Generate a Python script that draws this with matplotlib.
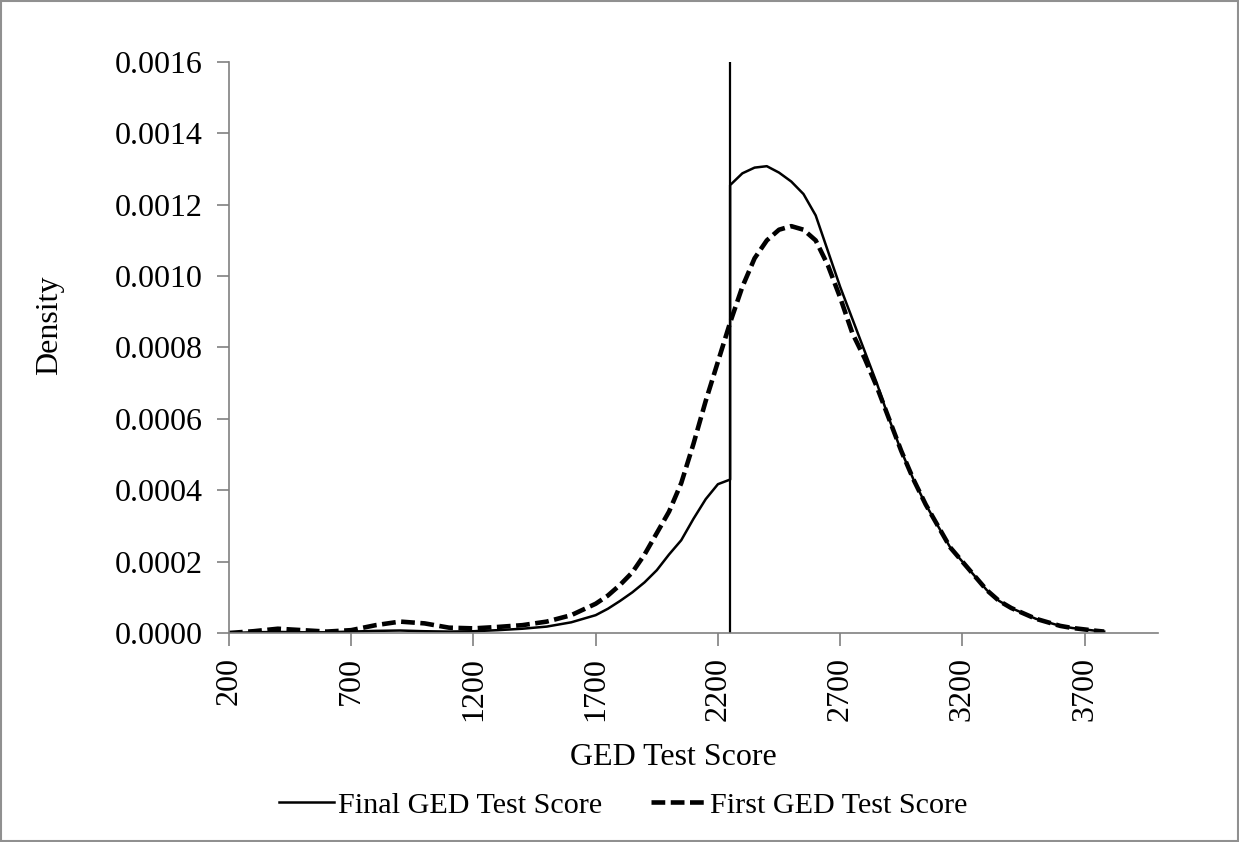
import matplotlib.pyplot as plt
from matplotlib.patches import Rectangle

plt.rcParams['font.family'] = ['Liberation Serif', 'DejaVu Serif']

# GED test score grid (duplicate 2250 marks the jump at the passing cutoff)
final_x = [200, 300, 400, 500, 600, 700, 800, 900, 1000, 1100, 1200, 1300,
           1400, 1500, 1600, 1700, 1750, 1800, 1850, 1900, 1950, 2000, 2050,
           2100, 2150, 2200, 2250, 2250, 2300, 2350, 2400, 2450, 2500, 2550,
           2600, 2650, 2700, 2750, 2800, 2850, 2900, 2950, 3000, 3050, 3100,
           3150, 3200, 3250, 3300, 3350, 3400, 3450, 3500, 3550, 3600, 3650,
           3700, 3750, 3780]
final_density = [0.0, 0.000002, 0.000003, 0.000002, 0.000002, 0.000004,
                 0.000006, 0.000007, 0.000005, 0.000004, 0.000005, 0.000008,
                 0.000012, 0.000018, 0.00003, 0.00005, 0.000068, 0.00009,
                 0.000114, 0.000142, 0.000176, 0.00022, 0.00026, 0.00032,
                 0.000375, 0.000417, 0.00043, 0.001255, 0.001288, 0.001304,
                 0.001308, 0.00129, 0.001265, 0.00123, 0.00117, 0.00107,
                 0.00097, 0.00088, 0.00079, 0.0007, 0.0006, 0.00051, 0.00043,
                 0.00036, 0.0003, 0.00024, 0.0002, 0.00016, 0.00012, 0.00009,
                 0.00007, 0.000055, 0.00004, 0.00003, 0.00002, 0.000014,
                 0.00001, 0.000006, 0.000004]

first_x = [200, 300, 400, 500, 600, 700, 800, 900, 1000, 1100, 1200, 1300,
           1400, 1500, 1600, 1700, 1750, 1800, 1850, 1900, 1950, 2000, 2050,
           2100, 2150, 2200, 2250, 2300, 2350, 2400, 2450, 2500, 2550, 2600,
           2650, 2700, 2750, 2800, 2850, 2900, 2950, 3000, 3050, 3100, 3150,
           3200, 3250, 3300, 3350, 3400, 3450, 3500, 3550, 3600, 3650, 3700,
           3750, 3780]
first_density = [0.0, 0.000005, 0.000012, 0.000008, 0.000004, 0.000008,
                 0.000022, 0.000032, 0.000027, 0.000015, 0.000013, 0.000017,
                 0.000022, 0.000032, 0.00005, 0.000082, 0.000105, 0.000135,
                 0.00017, 0.00022, 0.00028, 0.00034, 0.00042, 0.00053,
                 0.00065, 0.00076, 0.00087, 0.00097, 0.00105, 0.0011,
                 0.00113, 0.00114, 0.00113, 0.0011, 0.00103, 0.00094, 0.00084,
                 0.00077, 0.00069, 0.0006, 0.00051, 0.00043, 0.00036, 0.0003,
                 0.00024, 0.0002, 0.00016, 0.00012, 0.00009, 0.00007,
                 0.000055, 0.00004, 0.00003, 0.00002, 0.000014, 0.00001,
                 0.000006, 0.000004]

cutoff = 2250
x_ticks = [200, 700, 1200, 1700, 2200, 2700, 3200, 3700]
y_ticks = [0.0, 0.0002, 0.0004, 0.0006, 0.0008, 0.0010, 0.0012, 0.0014, 0.0016]

fig = plt.figure(figsize=(12.39, 8.42), dpi=100)
ax = fig.add_axes([0.1848, 0.2482, 0.7498, 0.6782])

ax.plot(final_x, final_density, color='black', lw=1.8,
        label='Final GED Test Score')
ax.plot(first_x, first_density, color='black', lw=3.3, linestyle=(0, (3.0, 1.2)),
        label='First GED Test Score')
ax.plot([cutoff, cutoff], [0, 0.0016], color='black', lw=1.6)

ax.set_xlim(200, 4000)
ax.set_ylim(0, 0.0016)
ax.set_xticks(x_ticks)
ax.set_xticklabels([str(t) for t in x_ticks], rotation=90)
ax.set_yticks(y_ticks)
ax.set_yticklabels(['%.4f' % t for t in y_ticks])
ax.tick_params(axis='both', labelsize=23, color='#808080', length=9, width=1.2)
ax.tick_params(axis='x', pad=8)
ax.tick_params(axis='y', pad=10)

for side in ['top', 'right']:
    ax.spines[side].set_visible(False)
for side in ['left', 'bottom']:
    ax.spines[side].set_color('#808080')
    ax.spines[side].set_linewidth(1.2)

ax.set_xlabel('GED Test Score', fontsize=23)
ax.xaxis.set_label_coords(0.478, -0.193)
ax.set_ylabel('Density', fontsize=23)
ax.yaxis.set_label_coords(-0.178, 0.539)

leg = fig.legend(loc='center', bbox_to_anchor=(0.503, 0.044), ncol=2,
                 frameon=False, fontsize=21.7, handlelength=1.83,
                 handletextpad=0.13, columnspacing=1.6)

fig.patches.append(Rectangle((0.001, 0.001), 0.998, 0.998, transform=fig.transFigure,
                             fill=False, edgecolor='#909090', lw=1.5))

fig.savefig('out.png', dpi=100)
